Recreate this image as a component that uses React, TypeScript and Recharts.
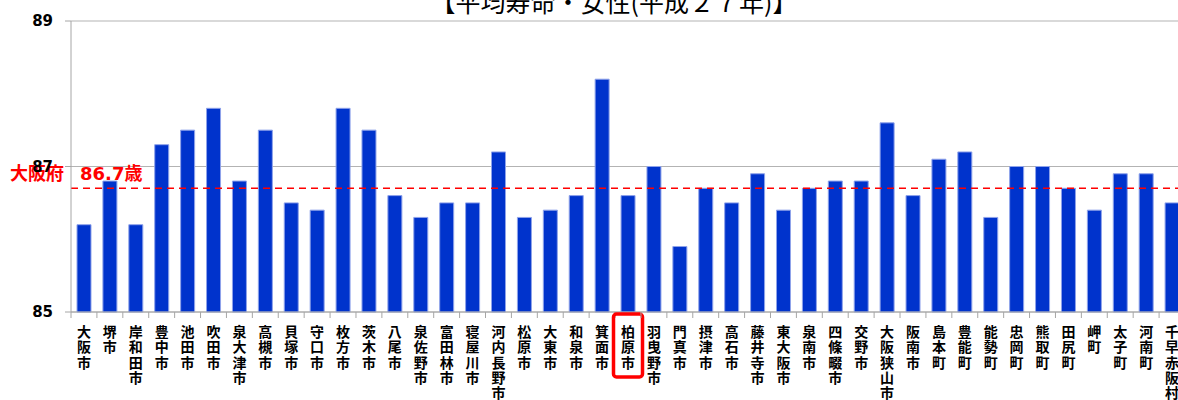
import React from "react";
import { BarChart, Bar, XAxis, YAxis, CartesianGrid, ReferenceLine } from "recharts";

const cities = [
  "大阪市", "堺市", "岸和田市", "豊中市", "池田市", "吹田市", "泉大津市", "高槻市",
  "貝塚市", "守口市", "枚方市", "茨木市", "八尾市", "泉佐野市", "富田林市", "寝屋川市",
  "河内長野市", "松原市", "大東市", "和泉市", "箕面市", "柏原市", "羽曳野市", "門真市",
  "摂津市", "高石市", "藤井寺市", "東大阪市", "泉南市", "四條畷市", "交野市", "大阪狭山市",
  "阪南市", "島本町", "豊能町", "能勢町", "忠岡町", "熊取町", "田尻町", "岬町",
  "太子町", "河南町", "千早赤阪村",
];

const lifeExpectancy = [
  86.2, 86.8, 86.2, 87.3, 87.5, 87.8, 86.8, 87.5,
  86.5, 86.4, 87.8, 87.5, 86.6, 86.3, 86.5, 86.5,
  87.2, 86.3, 86.4, 86.6, 88.2, 86.6, 87.0, 85.9,
  86.7, 86.5, 86.9, 86.4, 86.7, 86.8, 86.8, 87.6,
  86.6, 87.1, 87.2, 86.3, 87.0, 87.0, 86.7, 86.4,
  86.9, 86.9, 86.5,
];

const yTicks = [85, 87, 89];
const osakaAverage = 86.7;
const highlightCity = "柏原市";
const title = "【平均寿命・女性(平成２７年)】";

const data = cities.map((name, i) => ({ name, value: lifeExpectancy[i] }));

const CHART_W = 1200;
const CHART_H = 400;
const Y_AXIS_W = 71;
const RIGHT_PAD = 15;
const band = (CHART_W - Y_AXIS_W - RIGHT_PAD) / cities.length;

const axisGray = "#a6a6a6";
const cjk = "'Noto Sans CJK JP', 'Noto Sans CJK SC', sans-serif";

// vertical city names, plus the boundary tick marks
const CityTick = (props: any) => {
  const { x, y, payload } = props;
  const name: string = payload.value;
  const left = x - band / 2;
  return (
    <g>
      <line x1={left} x2={left} y1={y} y2={y + 6} stroke={axisGray} />
      <text
        x={x}
        y={y + 25}
        textAnchor="middle"
        fontSize={14}
        fontWeight="bold"
        fontFamily={cjk}
        fill="#000"
      >
        {name.split("").map((c, i) => (
          <tspan key={i} x={x} dy={i === 0 ? 0 : 15.3}>
            {c}
          </tspan>
        ))}
      </text>
      {name === highlightCity && (
        <rect
          x={x - 14.5}
          y={y + 2}
          width={29}
          height={63}
          rx={3}
          fill="none"
          stroke="#ff0000"
          strokeWidth={3.5}
        />
      )}
    </g>
  );
};

const AverageLabel = (props: any) => {
  const y = props.viewBox.y - 8;
  return (
    <g fill="#ff0000" fontWeight="bold" fontSize={18}>
      <text x={10} y={y} fontFamily={cjk}>
        大阪府
      </text>
      <text x={80} y={y} fontFamily="'DejaVu Sans', 'Noto Sans CJK JP'">
        {osakaAverage}歳
      </text>
    </g>
  );
};

const App = () => {
  return (
    <div
      style={{
        position: "absolute",
        top: 0,
        left: 0,
        width: 1178,
        height: 400,
        overflow: "hidden",
        background: "#fff",
      }}
    >
      <svg
        width={1178}
        height={30}
        style={{ position: "absolute", top: 0, left: 0, pointerEvents: "none" }}
      >
        <text x={614} y={12} textAnchor="middle" fontSize={25} fontFamily={cjk} fill="#000">
          {title}
        </text>
      </svg>
      <BarChart
        width={CHART_W}
        height={CHART_H}
        data={data}
        margin={{ top: 21, right: RIGHT_PAD, bottom: 0, left: 0 }}
      >
        <CartesianGrid vertical={false} stroke="#b3b3b3" />
        <XAxis
          dataKey="name"
          interval={0}
          height={88}
          tickSize={0}
          tickMargin={0}
          tickLine={false}
          axisLine={{ stroke: axisGray }}
          tick={<CityTick />}
        />
        <YAxis
          type="number"
          domain={[85, 89]}
          ticks={yTicks}
          width={Y_AXIS_W}
          tickSize={6}
          tickMargin={12}
          axisLine={{ stroke: axisGray }}
          tickLine={{ stroke: axisGray }}
          tick={{ fill: "#000", fontSize: 15, fontWeight: "bold", fontFamily: "'DejaVu Sans'" }}
        />
        <Bar
          dataKey="value"
          fill="#0033cc"
          stroke="#8fa3ea"
          strokeWidth={1}
          barSize={14}
          isAnimationActive={false}
        />
        <ReferenceLine
          y={osakaAverage}
          stroke="#ff0000"
          strokeWidth={1.5}
          strokeDasharray="7 5"
          label={AverageLabel}
        />
      </BarChart>
    </div>
  );
};

export default App;
